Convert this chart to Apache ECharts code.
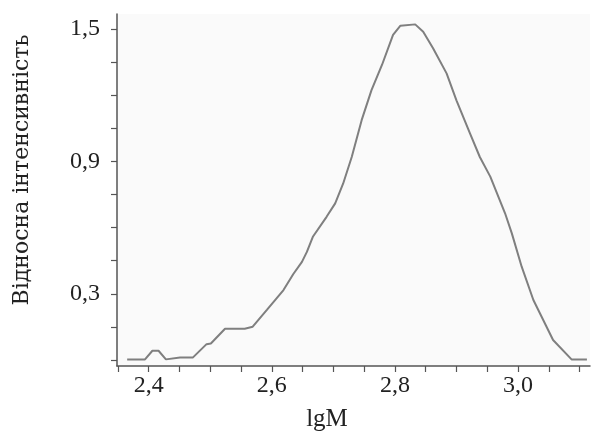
<!DOCTYPE html>
<html>
<head>
<meta charset="utf-8">
<script src="https://cdn.jsdelivr.net/npm/echarts@6/dist/echarts.min.js"></script>
<style>
  html, body { margin: 0; padding: 0; background: #ffffff; }
  #chart { width: 591px; height: 435px; }
</style>
</head>
<body>
<div id="chart"></div>
<script>
// Data
const lgM = [2.365, 2.394, 2.406, 2.416, 2.428, 2.451, 2.472, 2.494, 2.501, 2.524, 2.556, 2.569, 2.592, 2.619, 2.635, 2.649, 2.657, 2.667, 2.689, 2.703, 2.716, 2.730, 2.746, 2.762, 2.779, 2.797, 2.809, 2.833, 2.846, 2.862, 2.884, 2.900, 2.922, 2.938, 2.955, 2.979, 2.990, 3.006, 3.025, 3.057, 3.087, 3.112];
const intensity = [0.003, 0.003, 0.042, 0.042, 0.003, 0.012, 0.012, 0.072, 0.075, 0.142, 0.142, 0.151, 0.227, 0.317, 0.390, 0.445, 0.490, 0.560, 0.649, 0.710, 0.800, 0.921, 1.087, 1.223, 1.337, 1.473, 1.515, 1.521, 1.488, 1.413, 1.299, 1.177, 1.027, 0.920, 0.831, 0.665, 0.574, 0.423, 0.272, 0.091, 0.003, 0.003];

const xTickValues = [2.35, 2.40, 2.45, 2.50, 2.55, 2.60, 2.65, 2.70, 2.75, 2.80, 2.85, 2.90, 2.95, 3.00, 3.05, 3.10];
const xLabelValues = [2.4, 2.6, 2.8, 3.0];
const yTickValues = [0, 0.15, 0.3, 0.45, 0.6, 0.75, 0.9, 1.05, 1.2, 1.35, 1.5];
const yLabelValues = [0.3, 0.9, 1.5];

const xTitle = 'lgM';
const yTitle = 'Відносна інтенсивність';

const FONT = 'Liberation Serif';
const fmt = v => v.toFixed(1).replace('.', ',');

const chart = echarts.init(document.getElementById('chart'), null, { renderer: 'canvas' });
chart.setOption({
  animation: false,
  backgroundColor: '#ffffff',
  grid: {
    left: 117, right: 1, top: 14, bottom: 69,
    show: true, backgroundColor: '#fafafa', borderWidth: 0
  },
  xAxis: {
    type: 'value',
    min: 2.3485, max: 3.117,
    axisLine: { show: true, onZero: false, lineStyle: { color: '#555', width: 1.5 } },
    axisTick: { show: true, length: 6, customValues: xTickValues, lineStyle: { color: '#555', width: 1.2 } },
    axisLabel: {
      customValues: xLabelValues, formatter: fmt, margin: 8,
      fontFamily: FONT, fontSize: 24, color: '#222'
    },
    splitLine: { show: false }
  },
  yAxis: {
    type: 'value',
    min: -0.027, max: 1.568,
    axisLine: { show: true, onZero: false, lineStyle: { color: '#555', width: 1.5 } },
    axisTick: { show: true, length: 6, customValues: yTickValues, lineStyle: { color: '#555', width: 1.2 } },
    axisLabel: {
      customValues: yLabelValues, formatter: fmt, margin: 17,
      fontFamily: FONT, fontSize: 24, color: '#222'
    },
    splitLine: { show: false }
  },
  graphic: [
    {
      type: 'text', x: 327, y: 419,
      style: { text: xTitle, font: '25px "Liberation Serif"', fill: '#222', align: 'center', verticalAlign: 'middle' }
    },
    {
      type: 'text', x: 22, y: 170, rotation: Math.PI / 2,
      style: { text: yTitle, font: '22px "DejaVu Serif"', fill: '#222', align: 'center', verticalAlign: 'middle' }
    }
  ],
  series: [{
    type: 'line',
    data: lgM.map((x, i) => [x, intensity[i]]),
    showSymbol: false,
    lineStyle: { color: '#7f7f7f', width: 2 },
    clip: false
  }]
});
</script>
</body>
</html>
